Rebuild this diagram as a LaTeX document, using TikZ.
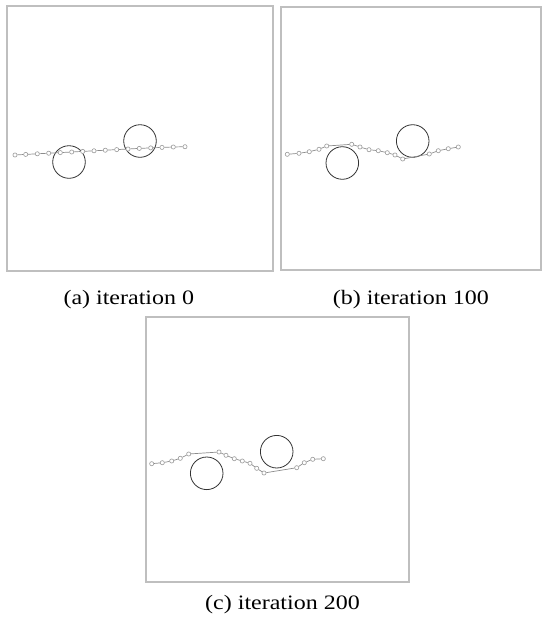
\documentclass[tikz,border=0pt]{standalone}
\usepackage{fontspec}
\setmainfont{Liberation Serif}
\begin{document}
\begin{tikzpicture}[x=1pt,y=-1pt,
  frame/.style={draw=black!25,line width=1.5pt},
  obstacle/.style={circle,draw=black!80,line width=0.8pt,minimum size=32.6pt,inner sep=0pt},
  dotnode/.style={circle,draw=black!40,fill=white,line width=0.6pt,minimum size=4.2pt,inner sep=0pt},
  chain/.style={draw=black!45,line width=0.7pt},
  caption/.style={anchor=base,inner sep=0pt,font=\fontsize{20.5}{24}\selectfont}]
\useasboundingbox (0,0) rectangle (543,619);
% frames
\draw[frame] (7,6) rectangle (273,271);
\draw[frame] (281,7) rectangle (541,270);
\draw[frame] (146,317) rectangle (409,582);
% panel (a)
\node[obstacle] (ao1) at (69,162) {};
\node[obstacle] (ao2) at (140,141) {};
\foreach \i/\x/\y in {1/15/155,2/25.7/154.4,3/37.3/153.8,4/48.7/153.2,5/60.3/152.6,6/71.7/152,7/82.7/151.4,8/94/150.8,9/105.3/150.2,10/116.7/149.6,11/128/149,12/139.3/148.4,13/150.7/147.9,14/162/147.4,15/173.3/147,16/185/146.7}
  \node[dotnode] (a\i) at (\x,\y) {};
\foreach \i [evaluate=\i as \j using int(\i+1)] in {1,...,15}
  \draw[chain] (a\i) -- (a\j);
% panel (b)
\node[obstacle] (bo1) at (342.3,163) {};
\node[obstacle] (bo2) at (412.7,141) {};
\foreach \i/\x/\y in {1/287.3/154.3,2/299/153.3,3/309.3/151.7,4/319/149.3,5/326.7/146,6/351.7/144.3,7/360/147,8/369/149.7,9/378.3/150.7,10/387.3/152.7,11/395/155,12/402.7/159,13/429.3/154,14/438.3/150.7,15/448.3/148.7,16/458.3/147}
  \node[dotnode] (b\i) at (\x,\y) {};
\foreach \i [evaluate=\i as \j using int(\i+1)] in {1,...,15}
  \draw[chain] (b\i) -- (b\j);
% panel (c)
\node[obstacle] (co1) at (206.7,473.3) {};
\node[obstacle] (co2) at (276.7,451.7) {};
\foreach \i/\x/\y in {1/151.7/463.7,2/162.3/462.7,3/171.7/461,4/180.3/458.3,5/188.7/454,6/219/452,7/226/455.3,8/234.3/458.7,9/242.3/461,10/250/463.3,11/256.7/468.3,12/264/473,13/296.7/467.7,14/304.3/462.7,15/312.7/459.3,16/323.3/458.7}
  \node[dotnode] (c\i) at (\x,\y) {};
\foreach \i [evaluate=\i as \j using int(\i+1)] in {1,...,15}
  \draw[chain] (c\i) -- (c\j);
% captions
\node[caption] (capa) at (128.8,304.6) {\scalebox{1.17}[1]{(a) iteration 0}};
\node[caption] (capb) at (410.8,304.6) {\scalebox{1.17}[1]{(b) iteration 100}};
\node[caption] (capc) at (282.5,609) {\scalebox{1.17}[1]{(c) iteration 200}};
\end{tikzpicture}
\end{document}
